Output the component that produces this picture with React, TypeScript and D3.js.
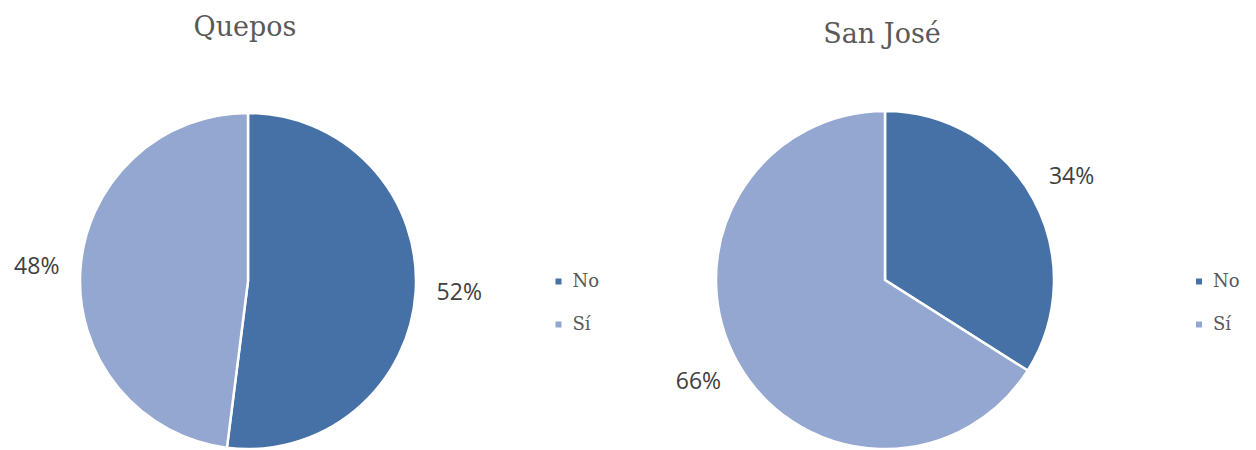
import React from "react";
import * as d3 from "d3";

const categories = ["No", "Sí"];
const cities = ["Quepos", "San José"];
const queposValues = [52, 48];
const sanJoseValues = [34, 66];
const colors = ["#4671a6", "#94a7d0"];

const W = 1256;
const H = 450;

function Pie({ title, values, cx, cy, r, titleY, titleSize, legendX }: any) {
  const pie = d3.pie<number>().sort(null).value((d) => d);
  const arcs = pie(values);
  const arc = d3.arc<any>().innerRadius(0).outerRadius(r);
  const labelArc = d3.arc<any>().innerRadius(r * 1.26).outerRadius(r * 1.26);
  return (
    <g>
      <text x={cx - 3} y={titleY} textAnchor="middle" fontFamily="'DejaVu Serif', serif" fontSize={titleSize} fill="#595959">
        {title}
      </text>
      <g transform={`translate(${cx},${cy})`}>
        {arcs.map((a, i) => (
          <path key={i} d={arc(a) as string} fill={colors[i]} stroke="#fff" strokeWidth={2.5} />
        ))}
        {arcs.map((a, i) => {
          const [x, y] = labelArc.centroid(a);
          return (
            <text key={i} x={x} y={y} textAnchor="middle" dominantBaseline="middle" fontFamily="'Open Sans', sans-serif" fontSize={23} fill="#404040">
              {values[i]}%
            </text>
          );
        })}
      </g>
      {categories.map((c, i) => (
        <g key={c} transform={`translate(${legendX},${281.5 + i * 43})`}>
          <rect x={-3} y={-3} width={6} height={6} fill={colors[i]} />
          <text x={14} y={0} dominantBaseline="middle" fontFamily="'DejaVu Serif', serif" fontSize={18} fill="#595959">
            {c}
          </text>
        </g>
      ))}
    </g>
  );
}

export default function App() {
  return (
    <svg width={W} height={H} style={{ position: "absolute", left: 0, top: 0, background: "#fff" }}>
      <rect width={W} height={H} fill="#fff" />
      <Pie title={cities[0]} values={queposValues} cx={248} cy={281} r={168} titleY={36} titleSize={27} legendX={558.5} />
      <Pie title={cities[1]} values={sanJoseValues} cx={885} cy={280} r={169} titleY={43} titleSize={27} legendX={1199} />
    </svg>
  );
}
